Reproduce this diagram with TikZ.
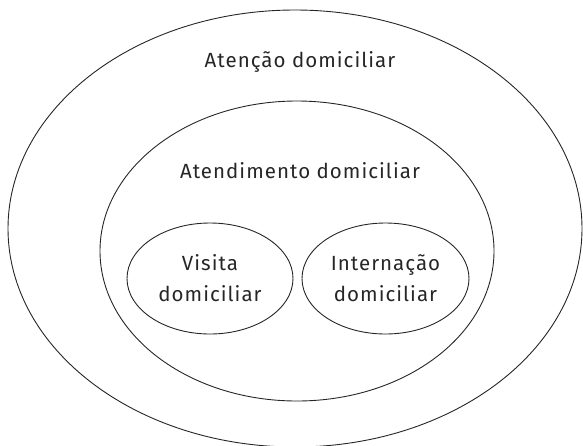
\documentclass[tikz,border=0pt]{standalone}
\usepackage{fontspec}
\setmainfont[LetterSpace=5]{Fira Sans}
\usetikzlibrary{shapes.geometric}

\begin{document}
\begin{tikzpicture}[x=1pt,y=-1pt,
    oval/.style={draw=black!85,line width=.9pt,ellipse,inner sep=0pt},
    txt/.style={text=black!85,font=\fontsize{20.5}{31}\selectfont,align=center}]
   \useasboundingbox (0,0) rectangle (583,445);
   % nested ellipses
   \node[oval,minimum width=574pt,minimum height=437pt] (atencao) at (295,228.5) {};
   \node[oval,minimum width=394pt,minimum height=300pt] (atendimento) at (297,251) {};
   \node[oval,txt,minimum width=166pt,minimum height=111pt] (visita) at (210,278.5) {Visita\\domiciliar};
   \node[oval,txt,minimum width=167pt,minimum height=111pt] (internacao) at (385.5,278.5) {Internação\\domiciliar};
   % labels of the outer ellipses
   \node[txt] (atencaolbl) at (300,62) {Atenção domiciliar};
   \node[txt] (atendimentolbl) at (300,171) {Atendimento domiciliar};
 \end{tikzpicture}
\end{document}
